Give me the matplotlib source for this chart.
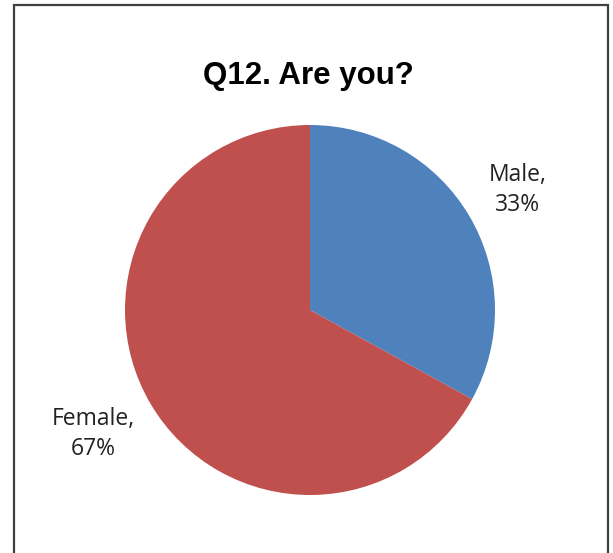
import matplotlib.pyplot as plt
from matplotlib.patches import Rectangle

labels = ["Male", "Female"]
values = [33, 67]
colors = ["#4F81BD", "#C0504D"]

W, H = 613, 553
fig = plt.figure(figsize=(W / 100, H / 100), dpi=100)
ax = fig.add_axes([0, 0, 1, 1])

# 饼图，从12点方向顺时针
ax.pie(values, colors=colors, startangle=90, counterclock=False,
       center=(310, H - 310), radius=185, frame=True,
       wedgeprops=dict(linewidth=0))
ax.set_xlim(0, W)
ax.set_ylim(0, H)
ax.axis("off")

# 外框（底边在画面之外）
ax.add_patch(Rectangle((14, -20), 594, H - 5 + 20, fill=False,
                       edgecolor="#404040", linewidth=1.6, zorder=5))

ax.text(308, H - 76, "Q12. Are you?", ha="center", va="center",
        fontsize=22.5, fontweight="bold", family="Liberation Sans", color="#000000")

label_pos = {"Male": (518, H - 190), "Female": (93, H - 434)}
for lab, v in zip(labels, values):
    x, y = label_pos[lab]
    ax.text(x, y, f"{lab},\n{v}%", ha="center", va="center",
            fontsize=16.5, family="Open Sans", color="#222222", linespacing=1.3)

fig.savefig("out.png", dpi=100)
